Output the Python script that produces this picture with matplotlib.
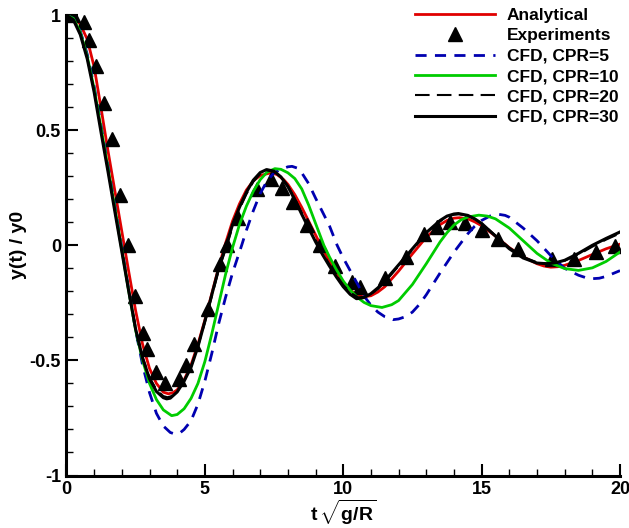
import matplotlib
matplotlib.use("Agg")
import matplotlib.pyplot as plt
from matplotlib.ticker import MultipleLocator

plt.rcParams['font.family'] = ['Liberation Sans', 'DejaVu Sans']
plt.rcParams['font.weight'] = 'bold'
plt.rcParams['mathtext.fontset'] = 'custom'
plt.rcParams['mathtext.rm'] = 'Liberation Sans:bold'
plt.rcParams['mathtext.bf'] = 'Liberation Sans:bold'

# ---- data ----
t_ana = [0, 0.25, 0.5, 0.75, 1.0, 1.25, 1.5, 1.75, 2.0, 2.25, 2.5, 2.75, 3.0, 3.25, 3.5,
         3.68, 3.85, 4.0, 4.25, 4.5, 4.75, 5.0, 5.25, 5.5, 5.75, 6.0, 6.25, 6.5, 6.75,
         7.0, 7.35, 7.6, 7.85, 8.0, 8.25, 8.5, 8.75, 9.0, 9.25, 9.5, 9.75, 10.0, 10.25,
         10.5, 10.72, 11.0, 11.25, 11.5, 12.0, 12.5, 13.0, 13.5, 13.75, 14.0, 14.2, 14.5,
         14.75, 15.0, 15.5, 16.0, 16.5, 17.0, 17.25, 17.5, 17.75, 18.0, 18.5, 19.0, 19.5,
         20.0]
y_ana = [1.0, 0.99, 0.96, 0.895, 0.775, 0.595, 0.41, 0.235, 0.06, -0.115, -0.285, -0.43,
         -0.535, -0.60, -0.638, -0.645, -0.64, -0.628, -0.585, -0.52, -0.43, -0.325,
         -0.21, -0.095, 0.01, 0.105, 0.18, 0.24, 0.28, 0.303, 0.314, 0.308, 0.285, 0.265,
         0.22, 0.165, 0.105, 0.045, -0.015, -0.07, -0.12, -0.162, -0.195, -0.216, -0.224,
         -0.219, -0.203, -0.18, -0.112, -0.037, 0.035, 0.09, 0.108, 0.118, 0.12, 0.115,
         0.102, 0.085, 0.04, -0.01, -0.05, -0.08, -0.09, -0.095, -0.093, -0.087, -0.066,
         -0.04, -0.015, 0.005]

t_exp = [0.25, 0.63, 0.83, 1.08, 1.35, 1.64, 1.94, 2.23, 2.47, 2.75, 2.9, 3.25, 3.55,
         4.05, 4.32, 4.62, 5.1, 5.55, 5.8, 6.2, 6.87, 7.4, 7.78, 8.19, 8.68, 9.16, 9.7,
         10.3, 10.6, 11.5, 12.27, 12.92, 13.37, 13.85, 14.4, 15.0, 15.6, 16.3, 17.53,
         18.33, 19.15, 19.82]
y_exp = [1.0, 0.97, 0.89, 0.78, 0.62, 0.46, 0.22, 0.0, -0.22, -0.38, -0.45, -0.55, -0.60,
         -0.58, -0.52, -0.43, -0.275, -0.08, 0.0, 0.12, 0.245, 0.29, 0.25, 0.19, 0.09, 0.0,
         -0.09, -0.16, -0.18, -0.14, -0.05, 0.05, 0.08, 0.10, 0.095, 0.067, 0.029, -0.017,
         -0.058, -0.058, -0.03, -0.005]

t_cpr5 = [0, 0.25, 0.5, 0.75, 1.0, 1.25, 1.5, 1.75, 2.0, 2.25, 2.5, 2.75, 3.0, 3.25, 3.5,
          3.75, 3.92, 4.1, 4.25, 4.5, 4.75, 5.0, 5.25, 5.5, 5.75, 6.0, 6.33, 6.5, 6.75,
          7.0, 7.25, 7.5, 7.75, 8.0, 8.15, 8.35, 8.5, 8.75, 9.0, 9.25, 9.5, 9.78, 10.0,
          10.25, 10.5, 10.75, 11.0, 11.25, 11.5, 11.8, 12.0, 12.25, 12.5, 12.75, 13.0,
          13.5, 14.0, 14.5, 14.75, 15.0, 15.3, 15.6, 15.85, 16.0, 16.5, 17.0, 17.5, 18.0,
          18.5, 18.75, 19.0, 19.25, 19.5, 20.0]
y_cpr5 = [1.0, 0.985, 0.93, 0.83, 0.69, 0.52, 0.345, 0.17, -0.01, -0.195, -0.37, -0.52,
          -0.64, -0.73, -0.785, -0.813, -0.82, -0.815, -0.80, -0.762, -0.69, -0.59, -0.47,
          -0.34, -0.225, -0.12, 0.0, 0.065, 0.15, 0.225, 0.28, 0.315, 0.33, 0.341, 0.343,
          0.335, 0.315, 0.268, 0.205, 0.145, 0.085, 0.0, -0.055, -0.11, -0.165, -0.22,
          -0.26, -0.29, -0.31, -0.323, -0.32, -0.31, -0.29, -0.257, -0.215, -0.12, -0.03,
          0.05, 0.083, 0.108, 0.127, 0.135, 0.13, 0.122, 0.075, 0.02, -0.045, -0.10, -0.13,
          -0.14, -0.145, -0.143, -0.135, -0.11]

t_cpr10 = [0, 0.25, 0.5, 0.75, 1.0, 1.25, 1.5, 1.75, 2.0, 2.25, 2.5, 2.75, 3.0, 3.25,
           3.5, 3.8, 4.0, 4.25, 4.5, 4.75, 5.0, 5.25, 5.5, 5.75, 6.0, 6.25, 6.5, 6.75,
           7.0, 7.25, 7.53, 7.75, 8.0, 8.25, 8.5, 8.75, 9.0, 9.3, 9.5, 9.75, 10.0, 10.25,
           10.5, 10.75, 11.0, 11.4, 11.75, 12.0, 12.5, 13.0, 13.5, 13.75, 14.0, 14.25,
           14.5, 14.9, 15.2, 15.5, 16.0, 16.5, 17.0, 17.5, 18.0, 18.5, 19.0, 19.5, 20.0]
y_cpr10 = [1.0, 0.985, 0.925, 0.82, 0.68, 0.51, 0.335, 0.16, -0.02, -0.2, -0.37, -0.5,
           -0.6, -0.67, -0.715, -0.74, -0.735, -0.71, -0.665, -0.6, -0.505, -0.385, -0.255,
           -0.125, -0.01, 0.09, 0.17, 0.235, 0.285, 0.318, 0.333, 0.33, 0.315, 0.29, 0.245,
           0.175, 0.095, 0.0, -0.05, -0.105, -0.155, -0.195, -0.225, -0.248, -0.262,
           -0.27, -0.258, -0.24, -0.17, -0.08, 0.015, 0.055, 0.088, 0.11, 0.123, 0.131,
           0.127, 0.115, 0.075, 0.02, -0.035, -0.077, -0.101, -0.109, -0.098, -0.07,
           -0.029]

t_cpr20 = [0, 0.25, 0.5, 0.75, 1.0, 1.25, 1.5, 1.75, 2.0, 2.25, 2.5, 2.75, 3.0, 3.25,
           3.5, 3.65, 3.8, 4.0, 4.25, 4.5, 4.75, 5.0, 5.25, 5.5, 5.8, 6.0, 6.25, 6.5,
           6.75, 7.0, 7.28, 7.5, 7.75, 8.0, 8.25, 8.5, 8.75, 9.0, 9.25, 9.5, 9.75, 10.0,
           10.25, 10.55, 10.8, 11.0, 11.25, 11.5, 12.0, 12.5, 13.0, 13.5, 13.75, 14.0,
           14.2, 14.5, 14.75, 15.0, 15.5, 16.0, 16.5, 17.0, 17.4, 17.75, 18.0, 18.5, 19.0,
           19.5, 20.0]
y_cpr20 = [1.0, 0.98, 0.918, 0.815, 0.672, 0.498, 0.328, 0.152, -0.02, -0.192, -0.358,
           -0.485, -0.573, -0.627, -0.655, -0.66, -0.655, -0.633, -0.59, -0.528, -0.44,
           -0.335, -0.222, -0.108, 0.0, 0.08, 0.157, 0.222, 0.276, 0.31, 0.325, 0.319,
           0.297, 0.258, 0.203, 0.142, 0.083, 0.024, -0.032, -0.083, -0.13, -0.172, -0.205,
           -0.227, -0.223, -0.212, -0.19, -0.16, -0.09, -0.02, 0.05, 0.104, 0.124, 0.133,
           0.135, 0.128, 0.114, 0.095, 0.043, -0.01, -0.05, -0.074, -0.08, -0.075, -0.067,
           -0.04, -0.006, 0.025, 0.052]

t_cpr30 = [0, 0.25, 0.5, 0.75, 1.0, 1.25, 1.5, 1.75, 1.96, 2.25, 2.5, 2.75, 3.0, 3.25,
           3.5, 3.62, 3.75, 4.0, 4.25, 4.5, 4.75, 5.0, 5.25, 5.5, 5.77, 6.0, 6.25, 6.5,
           6.75, 7.0, 7.23, 7.5, 7.75, 8.0, 8.25, 8.5, 8.75, 9.0, 9.25, 9.5, 9.75, 10.0,
           10.25, 10.48, 10.75, 11.0, 11.25, 11.5, 12.0, 12.5, 13.0, 13.5, 13.75, 14.0,
           14.16, 14.5, 14.75, 15.0, 15.5, 16.0, 16.5, 17.0, 17.35, 17.7, 18.0, 18.5, 19.0,
           19.5, 20.0]
y_cpr30 = [1.0, 0.979, 0.915, 0.81, 0.665, 0.49, 0.32, 0.145, 0.0, -0.2, -0.365, -0.49,
           -0.58, -0.635, -0.662, -0.667, -0.664, -0.637, -0.59, -0.53, -0.44, -0.33,
           -0.215, -0.1, 0.0, 0.09, 0.165, 0.23, 0.283, 0.316, 0.329, 0.322, 0.297, 0.255,
           0.198, 0.135, 0.075, 0.015, -0.04, -0.09, -0.137, -0.18, -0.213, -0.232, -0.227,
           -0.21, -0.185, -0.155, -0.085, -0.015, 0.055, 0.108, 0.127, 0.136, 0.138, 0.13,
           0.115, 0.095, 0.04, -0.015, -0.055, -0.077, -0.08, -0.075, -0.065, -0.035, 0.0,
           0.03, 0.058]

fig = plt.figure(figsize=(6.29, 5.28), dpi=100)
ax = fig.add_axes([0.1057, 0.0994, 0.880, 0.872])

ax.plot(t_ana, y_ana, color='#e00000', lw=2.0, label='Analytical')
ax.plot(t_exp, y_exp, linestyle='none', marker='^', ms=9.5, color='black',
        label='Experiments')
ax.plot(t_cpr5, y_cpr5, color='#0000b0', lw=2.0, dashes=(4, 3), label='CFD, CPR=5')
ax.plot(t_cpr10, y_cpr10, color='#00cc00', lw=2.0, label='CFD, CPR=10')
ax.plot(t_cpr20, y_cpr20, color='black', lw=1.5, dashes=(7, 3.5), label='CFD, CPR=20')
ax.plot(t_cpr30, y_cpr30, color='black', lw=2.2, label='CFD, CPR=30')

ax.set_xlim(0, 20)
ax.set_ylim(-1, 1)
ax.spines['top'].set_visible(False)
ax.spines['right'].set_visible(False)
for s in ('left', 'bottom'):
    ax.spines[s].set_linewidth(2.2)

ax.xaxis.set_major_locator(MultipleLocator(5))
ax.xaxis.set_minor_locator(MultipleLocator(1))
ax.yaxis.set_minor_locator(MultipleLocator(0.1))
ax.set_yticks([-1, -0.5, 0, 0.5, 1])
ax.set_yticklabels(['-1', '-0.5', '0', '0.5', '1'])
ax.tick_params(which='major', direction='in', length=8.5, width=1.5, labelsize=13,
               pad=4)
ax.tick_params(which='minor', direction='in', length=5, width=1.0)

ax.set_xlabel(r'$\mathbf{t}\,\sqrt{\mathbf{g/R}}$', fontsize=14, labelpad=0)
ax.set_ylabel('y(t) / y0', fontsize=14, fontweight='bold', labelpad=2)

ax.legend(loc='upper right', bbox_to_anchor=(1.0, 1.005), bbox_transform=fig.transFigure,
          frameon=False, handlelength=4.6, labelspacing=0.3, borderpad=0.1,
          handletextpad=0.7, prop={'weight': 'bold', 'size': 12.5})

fig.savefig('out.png', dpi=100)
